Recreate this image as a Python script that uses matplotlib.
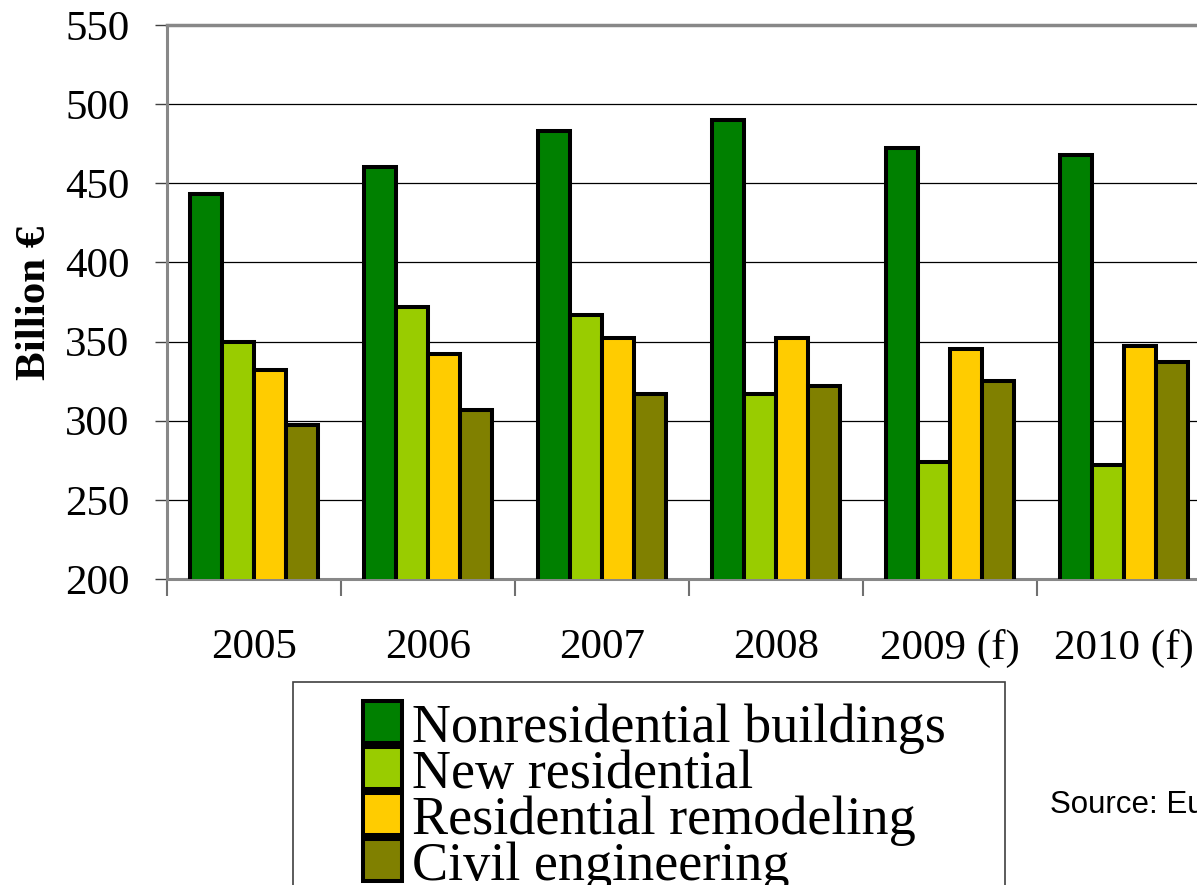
import matplotlib
matplotlib.use('Agg')
import matplotlib.pyplot as plt
import numpy as np
from matplotlib.patches import Rectangle
from matplotlib.ticker import FixedLocator

# ---- data ----
years = ['2005', '2006', '2007', '2008', '2009 (f)', '2010 (f)']
series_names = ['Nonresidential buildings', 'New residential',
                'Residential remodeling', 'Civil engineering']
nonresidential = [443, 460, 483, 490, 472, 468]
new_residential = [350, 372, 367, 317, 274, 272]
remodeling = [332, 342, 352, 352, 345, 347]
civil = [297, 307, 317, 322, 325, 337]
y_ticks = [200, 250, 300, 350, 400, 450, 500, 550]
colors = ['#008000', '#99CC00', '#FFCC00', '#808000']

W, H = 1197, 885
fig = plt.figure(figsize=(W / 100, H / 100), dpi=100)
serif = 'Liberation Serif'

# axes extends slightly beyond right edge (cropped chart)
ax = fig.add_axes([167 / W, 1 - 579 / H, (1211 - 167) / W, (579 - 25) / H])

x = np.arange(len(years))
bw = 0.184
all_series = [nonresidential, new_residential, remodeling, civil]
for i, (vals, c, name) in enumerate(zip(all_series, colors, series_names)):
    ax.bar(x + (i - 1.5) * bw, vals, width=bw, color=c, edgecolor='black',
           linewidth=2.9, label=name, zorder=3)

ax.set_xlim(-0.5, len(years) - 0.5)
ax.set_ylim(200, 550)
ax.set_yticks(y_ticks)
ax.set_yticklabels([str(v) for v in y_ticks], fontfamily=serif, fontsize=31)
ax.tick_params(axis='y', direction='out', length=9, width=1, color='#404040', pad=18)

ax.set_xticks(x)
ax.set_xticklabels(years, fontfamily=serif, fontsize=31)
ax.tick_params(axis='x', which='major', length=0, pad=36)
ax.xaxis.set_minor_locator(FixedLocator(np.arange(-0.5, len(years), 1.0)))
ax.tick_params(axis='x', which='minor', direction='out', length=12, width=1.5, color='#707070')

ax.yaxis.grid(True, color='black', linewidth=0.9)
ax.set_axisbelow(True)
for s in ['left', 'bottom', 'top']:
    ax.spines[s].set_color('#888888')
ax.spines['left'].set_linewidth(2.2)
ax.spines['bottom'].set_linewidth(2.2)
ax.spines['top'].set_linewidth(2.5)
ax.spines['right'].set_visible(False)

ax.set_ylabel('Billion €', fontfamily=serif, fontweight='bold', fontsize=31, va='center')
ax.yaxis.set_label_coords((35 - 167) / 1044, (579 - 303) / 554)

# ---- legend (drawn manually, extends past the bottom edge) ----
fig.add_artist(Rectangle((293 / W, -0.2), (1005 - 293) / W, 1 - 682 / H + 0.2,
                         transform=fig.transFigure, facecolor='none',
                         edgecolor='#404040', linewidth=1.2))
for i, (c, name) in enumerate(zip(colors, series_names)):
    top = 701 + 46 * i
    fig.add_artist(Rectangle((363 / W, 1 - (top + 42) / H), 39 / W, 42 / H,
                             transform=fig.transFigure, facecolor=c,
                             edgecolor='black', linewidth=2.9))
    fig.text(412 / W, 1 - (top + 41) / H, name, fontfamily=serif, fontsize=39,
             va='baseline', ha='left')

fig.text(1050 / W, 1 - 813 / H, 'Source: Euroconstruct', fontfamily='Liberation Sans',
         fontsize=22.5, va='baseline', ha='left')

fig.savefig('out.png', dpi=100)
